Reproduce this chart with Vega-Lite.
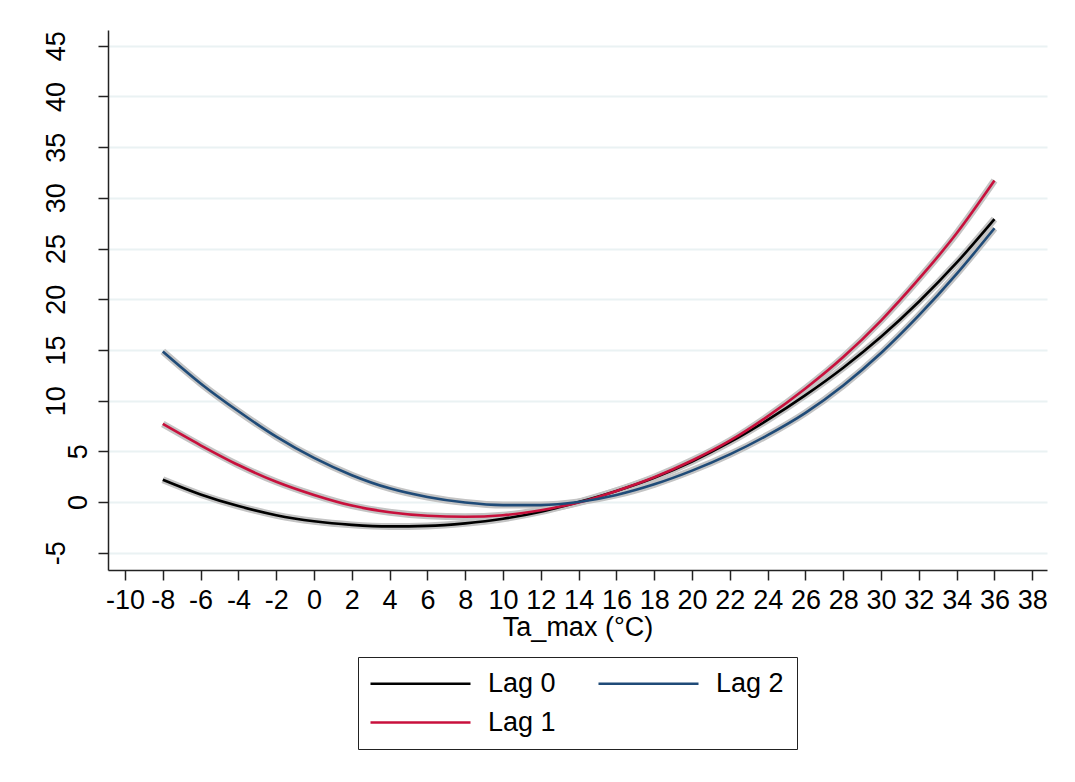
{
  "$schema": "https://vega.github.io/schema/vega-lite/v6.json",
  "width": 939,
  "height": 540,
  "autosize": {"type": "none"},
  "padding": {"left": 108, "top": 30, "right": 28, "bottom": 212},
  "background": "white",
  "config": {
    "view": {"stroke": null},
    "font": "Liberation Sans",
    "axis": {"labelFont": "Liberation Sans", "titleFont": "Liberation Sans", "labelColor": "black", "titleColor": "black", "domainColor": "#222222", "tickColor": "#222222", "domainWidth": 1.5, "tickWidth": 1.5, "tickSize": 10, "labelFontSize": 27, "titleFontSize": 27, "titleFontWeight": "normal"}
  },
  "data": {
    "values": [
      {"lag": "Lag 0", "x": -8, "y": 2.2}, {"lag": "Lag 0", "x": -6, "y": 0.75}, {"lag": "Lag 0", "x": -4, "y": -0.4}, {"lag": "Lag 0", "x": -2, "y": -1.3}, {"lag": "Lag 0", "x": 0, "y": -1.9}, {"lag": "Lag 0", "x": 2, "y": -2.25}, {"lag": "Lag 0", "x": 4, "y": -2.4}, {"lag": "Lag 0", "x": 6, "y": -2.35}, {"lag": "Lag 0", "x": 8, "y": -2.1}, {"lag": "Lag 0", "x": 10, "y": -1.65}, {"lag": "Lag 0", "x": 12, "y": -0.95}, {"lag": "Lag 0", "x": 14, "y": 0.0}, {"lag": "Lag 0", "x": 16, "y": 1.1}, {"lag": "Lag 0", "x": 18, "y": 2.4}, {"lag": "Lag 0", "x": 20, "y": 4.0}, {"lag": "Lag 0", "x": 22, "y": 5.9}, {"lag": "Lag 0", "x": 24, "y": 8.1}, {"lag": "Lag 0", "x": 26, "y": 10.55}, {"lag": "Lag 0", "x": 28, "y": 13.25}, {"lag": "Lag 0", "x": 30, "y": 16.3}, {"lag": "Lag 0", "x": 32, "y": 19.75}, {"lag": "Lag 0", "x": 34, "y": 23.6}, {"lag": "Lag 0", "x": 36, "y": 27.9},
      {"lag": "Lag 1", "x": -8, "y": 7.7}, {"lag": "Lag 1", "x": -6, "y": 5.6}, {"lag": "Lag 1", "x": -4, "y": 3.65}, {"lag": "Lag 1", "x": -2, "y": 2.0}, {"lag": "Lag 1", "x": 0, "y": 0.7}, {"lag": "Lag 1", "x": 2, "y": -0.35}, {"lag": "Lag 1", "x": 4, "y": -1.0}, {"lag": "Lag 1", "x": 6, "y": -1.35}, {"lag": "Lag 1", "x": 8, "y": -1.45}, {"lag": "Lag 1", "x": 10, "y": -1.3}, {"lag": "Lag 1", "x": 12, "y": -0.8}, {"lag": "Lag 1", "x": 14, "y": -0.05}, {"lag": "Lag 1", "x": 16, "y": 1.1}, {"lag": "Lag 1", "x": 18, "y": 2.45}, {"lag": "Lag 1", "x": 20, "y": 4.1}, {"lag": "Lag 1", "x": 22, "y": 6.05}, {"lag": "Lag 1", "x": 24, "y": 8.45}, {"lag": "Lag 1", "x": 26, "y": 11.2}, {"lag": "Lag 1", "x": 28, "y": 14.3}, {"lag": "Lag 1", "x": 30, "y": 17.9}, {"lag": "Lag 1", "x": 32, "y": 22.0}, {"lag": "Lag 1", "x": 34, "y": 26.5}, {"lag": "Lag 1", "x": 36, "y": 31.7},
      {"lag": "Lag 2", "x": -8, "y": 14.85}, {"lag": "Lag 2", "x": -6, "y": 11.7}, {"lag": "Lag 2", "x": -4, "y": 8.95}, {"lag": "Lag 2", "x": -2, "y": 6.45}, {"lag": "Lag 2", "x": 0, "y": 4.35}, {"lag": "Lag 2", "x": 2, "y": 2.65}, {"lag": "Lag 2", "x": 4, "y": 1.35}, {"lag": "Lag 2", "x": 6, "y": 0.5}, {"lag": "Lag 2", "x": 8, "y": -0.05}, {"lag": "Lag 2", "x": 10, "y": -0.3}, {"lag": "Lag 2", "x": 12, "y": -0.3}, {"lag": "Lag 2", "x": 14, "y": 0.0}, {"lag": "Lag 2", "x": 16, "y": 0.7}, {"lag": "Lag 2", "x": 18, "y": 1.75}, {"lag": "Lag 2", "x": 20, "y": 3.1}, {"lag": "Lag 2", "x": 22, "y": 4.7}, {"lag": "Lag 2", "x": 24, "y": 6.6}, {"lag": "Lag 2", "x": 26, "y": 8.8}, {"lag": "Lag 2", "x": 28, "y": 11.5}, {"lag": "Lag 2", "x": 30, "y": 14.7}, {"lag": "Lag 2", "x": 32, "y": 18.4}, {"lag": "Lag 2", "x": 34, "y": 22.5}, {"lag": "Lag 2", "x": 36, "y": 27.0}
    ]
  },
  "encoding": {
    "x": {
      "field": "x", "type": "quantitative",
      "scale": {"domain": [-10.9, 38.78], "nice": false, "zero": false},
      "axis": {"title": "Ta_max (°C)", "values": [-10, -8, -6, -4, -2, 0, 2, 4, 6, 8, 10, 12, 14, 16, 18, 20, 22, 24, 26, 28, 30, 32, 34, 36, 38], "labelExpr": "'' + datum.value", "grid": false, "labelPadding": 7, "titlePadding": 1, "labelFlush": false, "labelOverlap": false}
    },
    "y": {
      "field": "y", "type": "quantitative",
      "scale": {"domain": [-6.7, 46.55], "nice": false, "zero": false},
      "axis": {"title": null, "values": [-5, 0, 5, 10, 15, 20, 25, 30, 35, 40, 45], "labelExpr": "'' + datum.value", "grid": true, "gridColor": "#eaf2f3", "gridWidth": 2, "labelAngle": 270, "labelAlign": "center", "labelBaseline": "alphabetic", "labelPadding": {"condition": {"test": "datum.value == 0 || datum.value == 5", "value": 12}, "value": 34}, "labelFlush": false, "labelOverlap": false}
    }
  },
  "layer": [
    {
      "mark": {"type": "line", "interpolate": "monotone", "strokeWidth": 7, "color": "#c4c4c4"},
      "encoding": {"detail": {"field": "lag"}}
    },
    {
      "mark": {"type": "line", "interpolate": "monotone", "strokeWidth": 2.6},
      "encoding": {
        "color": {
          "field": "lag", "type": "nominal",
          "scale": {"domain": ["Lag 0", "Lag 1", "Lag 2"], "range": ["#000000", "#c8103c", "#1f4b78"]},
          "legend": {"title": null, "orient": "none", "direction": "vertical", "legendX": 250, "legendY": 627, "columns": 2, "symbolType": "M-1.4,0H8.6", "symbolSize": 400, "symbolStrokeWidth": 2.6, "labelFontSize": 27, "labelFont": "Liberation Sans", "labelColor": "black", "labelOffset": 90, "columnPadding": 37, "rowPadding": 11, "padding": 13, "strokeColor": "#222222", "fillColor": "white"}
        }
      }
    }
  ]
}
